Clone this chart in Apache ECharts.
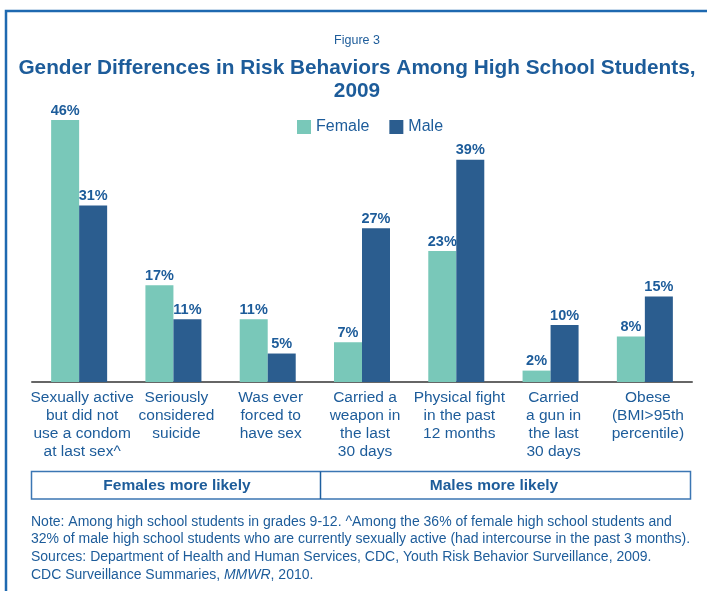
<!DOCTYPE html>
<html>
<head>
<meta charset="utf-8">
<script src="https://cdn.jsdelivr.net/npm/echarts@6/dist/echarts.min.js"></script>
<style>
html,body{margin:0;padding:0;background:#fff;}
#chart{width:707px;height:591px;}
</style>
</head>
<body>
<div id="chart"></div>
<script>
const categories = [
  "Sexually active\nbut did not\nuse a condom\nat last sex^",
  "Seriously\nconsidered\nsuicide",
  "Was ever\nforced to\nhave sex",
  "Carried a\nweapon in\nthe last\n30 days",
  "Physical fight\nin the past\n12 months",
  "Carried\na gun in\nthe last\n30 days",
  "Obese\n(BMI>95th\npercentile)"
];
const femaleValues = [46, 17, 11, 7, 23, 2, 8];
const maleValues = [31, 11, 5, 27, 39, 10, 15];
const seriesNames = ["Female", "Male"];
const groupLabels = ["Females more likely", "Males more likely"];
const figureLabel = "Figure 3";
const titleLines = ["Gender Differences in Risk Behaviors Among High School Students,", "2009"];
const noteLines = [
  "Note: Among high school students in grades 9-12. ^Among the 36% of female high school students and",
  "32% of male high school students who are currently sexually active (had intercourse in the past 3 months).",
  "Sources: Department of Health and Human Services, CDC, Youth Risk Behavior Surveillance, 2009."
];

const FONT = "'Liberation Sans', Arial, Helvetica, sans-serif";
const BLUE = "#1d5c9a";
const chart = echarts.init(document.getElementById('chart'), null, {renderer: 'canvas'});

const labelStyle = {
  show: true, position: 'top', distance: 2,
  formatter: p => p.value + '%',
  color: BLUE, fontFamily: FONT, fontWeight: 'bold', fontSize: 14.5
};

chart.setOption({
  animation: false,
  backgroundColor: '#fff',
  legend: {
    data: seriesNames, left: 297, top: 119, padding: 0, itemWidth: 14, itemHeight: 14, itemGap: 20,
    icon: 'rect',
    textStyle: {fontFamily: FONT, fontSize: 16, color: BLUE}
  },
  grid: {left: 32, right: 15, top: 120, bottom: 209, containLabel: false},
  xAxis: {
    type: 'category', data: categories,
    axisLine: {show: true, lineStyle: {color: '#666', width: 2}},
    axisTick: {show: false},
    axisLabel: {interval: 0, margin: 7, fontFamily: FONT, fontSize: 15.5, lineHeight: 18, color: BLUE, align: 'center', padding: [0, 0, 0, 6]}
  },
  yAxis: {type: 'value', min: 0, max: 46, show: false, splitLine: {show: false}},
  series: [
    {name: seriesNames[0], type: 'bar', data: femaleValues, barGap: '0%', barCategoryGap: '40.6%',
     itemStyle: {color: '#79c8b9'}, label: labelStyle},
    {name: seriesNames[1], type: 'bar', data: maleValues,
     itemStyle: {color: '#2b5d8f'}, label: labelStyle}
  ],
  graphic: [
    {type: 'polyline', shape: {points: [[6, 591], [6, 11], [707, 11]]}, style: {stroke: '#1e69b0', lineWidth: 2.5, fill: null}},
    {type: 'text', x: 357, y: 41, style: {text: figureLabel, font: '12.5px ' + FONT, fill: BLUE, textAlign: 'center', textVerticalAlign: 'middle'}},
    {type: 'text', x: 357, y: 68, style: {text: titleLines[0], font: 'bold 20.8px ' + FONT, fill: BLUE, textAlign: 'center', textVerticalAlign: 'middle'}},
    {type: 'text', x: 357, y: 91, style: {text: titleLines[1], font: 'bold 20.8px ' + FONT, fill: BLUE, textAlign: 'center', textVerticalAlign: 'middle'}},
    {type: 'rect', shape: {x: 31.5, y: 471.5, width: 659, height: 27.5}, style: {stroke: '#3b76b3', lineWidth: 1.5, fill: null}},
    {type: 'line', shape: {x1: 320.5, y1: 471.5, x2: 320.5, y2: 499}, style: {stroke: '#1e5f9f', lineWidth: 1.5}},
    {type: 'text', x: 177, y: 486, style: {text: groupLabels[0], font: 'bold 15.5px ' + FONT, fill: BLUE, textAlign: 'center', textVerticalAlign: 'middle'}},
    {type: 'text', x: 494, y: 486, style: {text: groupLabels[1], font: 'bold 15.5px ' + FONT, fill: BLUE, textAlign: 'center', textVerticalAlign: 'middle'}},
    {type: 'text', x: 31, y: 513, style: {text: noteLines.join('\n') + '\n{n|CDC Surveillance Summaries, }{i|MMWR}{n|, 2010.}',
      font: '14px ' + FONT, fill: BLUE, lineHeight: 17.7,
      rich: {n: {fontFamily: FONT, fontSize: 14, color: BLUE, lineHeight: 17.7}, i: {fontFamily: FONT, fontSize: 14, fontStyle: 'italic', color: BLUE, lineHeight: 17.7}}}}
  ]
});
</script>
</body>
</html>
